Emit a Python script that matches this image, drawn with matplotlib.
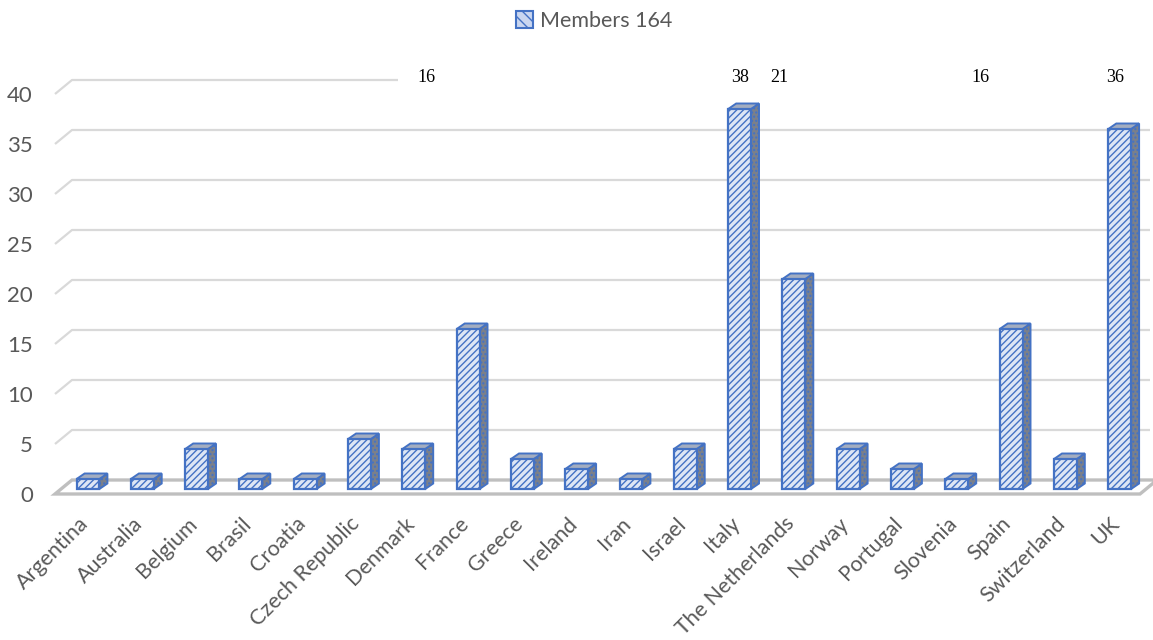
import matplotlib
matplotlib.use('Agg')
import matplotlib.pyplot as plt
from matplotlib.patches import Polygon, Rectangle
from matplotlib.transforms import ScaledTranslation

countries = ["Argentina", "Australia", "Belgium", "Brasil", "Croatia", "Czech Republic",
             "Denmark", "France", "Greece", "Ireland", "Iran", "Israel", "Italy",
             "The Netherlands", "Norway", "Portugal", "Slovenia", "Spain", "Switzerland", "UK"]
members = [1, 1, 4, 1, 1, 5, 4, 16, 3, 2, 1, 4, 38, 21, 4, 2, 1, 16, 3, 36]
legend_label = "Members 164"
y_ticks = [0, 5, 10, 15, 20, 25, 30, 35, 40]
labelled = ["France", "Italy", "The Netherlands", "Spain", "UK"]
label_shift = [-0.77, 0.0, -0.27, -0.57, -0.09]   # label offsets (in categories) as moved in the original

W, H = 1153, 640
fig = plt.figure(figsize=(W / 100, H / 100), dpi=100)
x0, step, base, unit = 88, 54.3, 489, 10
ax = fig.add_axes([55 / W, (H - 494) / H, (W - 55) / W, (494 - 40) / H])
xl = (55 - x0) / step
ax.set_xlim(xl, (W - x0) / step)
ax.set_ylim(-0.5, (base - 40) / unit)
for s in ax.spines.values():
    s.set_visible(False)

# depth of the 3D box (back wall offset) and of each bar
dxb, dyb = 17 / step, 1.4
floor_front = -0.5
back_y = floor_front + dyb
xr_back = (1150 - x0) / step
xr_front = (1140 - x0) / step

grid_c = '#d9d9d9'
for g in y_ticks[1:]:
    xend = xr_back if g != max(y_ticks) else (398 - x0) / step
    ax.plot([xl, xl + dxb, xend], [g + floor_front, g + back_y, g + back_y],
            color=grid_c, lw=1.6, zorder=1, clip_on=False, solid_capstyle='butt')

# floor slab
floor = Polygon([(xl, floor_front), (xr_front, floor_front), (xr_front + dxb, back_y),
                 (xl + dxb, back_y)], closed=True, facecolor='white', edgecolor='#bfbfbf',
                lw=2.4, zorder=2, clip_on=False)
ax.add_patch(floor)

# bars
w = 0.42
dx, dy = 8 / step, 0.55
blue = '#4472c4'
xs = list(range(len(countries)))
ax.bar(xs, members, width=w, bottom=0, facecolor='#dde6f5', edgecolor=blue,
       hatch='/////', lw=1.6, zorder=4)
for x, v in zip(xs, members):
    side = Polygon([(x + w / 2, 0), (x + w / 2 + dx, dy), (x + w / 2 + dx, v + dy), (x + w / 2, v)],
                   closed=True, facecolor='#7b808a', edgecolor=blue, lw=1.4, hatch='....', zorder=3)
    top = Polygon([(x - w / 2, v), (x + w / 2, v), (x + w / 2 + dx, v + dy), (x - w / 2 + dx, v + dy)],
                  closed=True, facecolor='#a3adc0', edgecolor=blue, lw=1.4, zorder=3)
    ax.add_patch(side)
    ax.add_patch(top)

# ticks
tick_c = '#595959'
ax.set_yticks([g + floor_front for g in y_ticks])
ax.set_yticklabels([str(g) for g in y_ticks], fontsize=16, color=tick_c, family='Lato')
ax.set_xticks(xs)
ax.set_xticklabels(countries, rotation=45, ha='right', rotation_mode='anchor',
                   fontsize=15.5, color=tick_c, family='Lato')
ax.tick_params(axis='y', length=0, pad=16)
ax.tick_params(axis='x', length=0, pad=14)
shift = ScaledTranslation(-10 / 100, 0, fig.dpi_scale_trans)
for lab in ax.get_xticklabels():
    lab.set_transform(lab.get_transform() + shift)

# data labels
for name, sh in zip(labelled, label_shift):
    i = countries.index(name)
    ax.text(i + sh, (base - 77) / unit, str(members[i]), ha='center', va='center',
            fontsize=13, family='Liberation Serif', color='black', zorder=6)

# legend
handle = Rectangle((0, 0), 1, 1, facecolor='#c9d6f0', edgecolor=blue, hatch='\\\\\\', lw=1.5)
leg = fig.legend(handles=[handle], labels=[legend_label], loc='center',
                 bbox_to_anchor=(594 / W, 1 - 21 / H), frameon=False,
                 prop={'family': 'Lato', 'size': 15.5}, handlelength=0.8, handleheight=0.8,
                 handletextpad=0.3)
for t in leg.get_texts():
    t.set_color(tick_c)

fig.savefig('out.png', dpi=100)
